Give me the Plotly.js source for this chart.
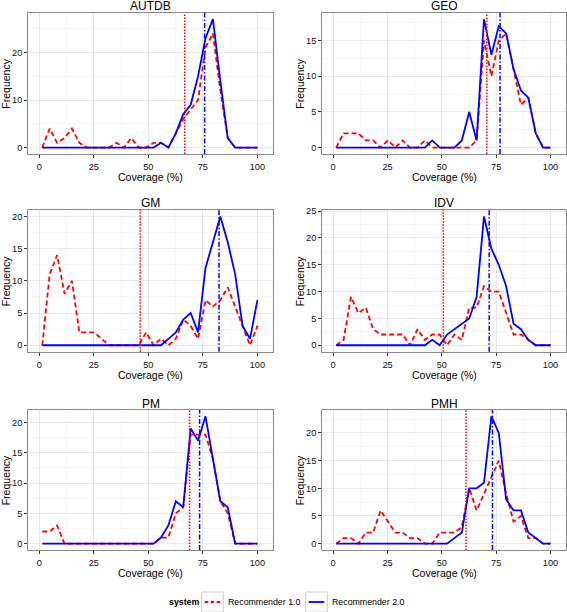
<!DOCTYPE html>
<html>
<head>
<meta charset="utf-8">
<script src="https://cdn.plot.ly/plotly-3.0.1.min.js"></script>
<style>html,body{margin:0;padding:0;background:#fff;}#chart{width:567px;height:612px;}</style>
</head>
<body>
<div id="chart"></div>
<script>
// ---- data ----
const coverage = [1.4, 4.8, 8.2, 11.6, 15.0, 18.4, 21.8, 25.2, 28.6, 32.0, 35.4, 38.8, 42.2, 45.6, 49.0,
                  52.4, 55.8, 59.2, 62.6, 66.0, 69.4, 72.8, 76.2, 79.6, 83.0, 86.4, 89.8, 93.2, 96.6, 100];
const panels = ["AUTDB", "GEO", "GM", "IDV", "PM", "PMH"];
const seriesNames = ["Recommender 1.0", "Recommender 2.0"];
const legendTitle = "system";

const autdbR1 = [0,4,1,2,4,1,0,0,0,0,1,0,2,0,0,1,1,0,3,6,8,10,21,24,12,2,0,0,0,0];
const autdbR2 = [0,0,0,0,0,0,0,0,0,0,0,0,0,0,0,0,1,0,3,7,9,15,23,27,14,2,0,0,0,0];
const geoR1   = [0,2,2,2,1,1,0,1,0,1,0,0,1,0,0,0,0,0,0,1,15,10,15,16,11,6,7,2,0,0];
const geoR2   = [0,0,0,0,0,0,0,0,0,0,0,0,0,1,0,0,0,1,5,1,18,13,17,16,11,8,7,2,0,0];
const gmR1    = [0,11,14,8,10,2,2,2,1,0,0,0,0,0,2,0,1,0,1,4,3,1,7,6,7,9,6,3,0,3];
const gmR2    = [0,0,0,0,0,0,0,0,0,0,0,0,0,0,0,0,0,1,2,4,5,2,12,16,20,16,11,3,1,7];
const idvR1   = [0,1,9,6,7,3,2,2,2,2,0,3,1,2,2,0,2,1,7,7,11,10,10,6,2,2,1,0,0,0];
const idvR2   = [0,0,0,0,0,0,0,0,0,0,0,0,0,1,0,2,3,4,5,9,24,18,15,11,4,3,1,0,0,0];
const pmR1    = [2,2,3,0,0,0,0,0,0,0,0,0,0,0,0,0,1,1,5,6,18,18,18,14,7,5,0,0,0,0];
const pmR2    = [0,0,0,0,0,0,0,0,0,0,0,0,0,0,0,0,1,3,7,6,19,17,21,14,7,6,0,0,0,0];
const pmhR1   = [0,1,1,0,2,2,6,4,2,2,1,1,0,0,2,2,2,3,10,6,9,12,15,9,4,5,1,1,0,0];
const pmhR2   = [0,0,0,0,0,0,0,0,0,0,0,0,0,0,0,0,1,2,10,10,11,23,20,8,6,6,2,1,0,0];

const meanR1 = [66.7, 70.7, 46.3, 50.7, 68.9, 61.1];
const meanR2 = [75.8, 76.8, 82.4, 71.8, 73.5, 73.3];

const xTicks = [0, 25, 50, 75, 100];

// ---- build ----
const r1Data = [autdbR1, geoR1, gmR1, idvR1, pmR1, pmhR1];
const r2Data = [autdbR2, geoR2, gmR2, idvR2, pmR2, pmhR2];

const FONT = '"Liberation Sans", Arial, Helvetica, sans-serif';
const RED = '#ff0000', BLUE = '#0000ff';
const W = 567, H = 612;
const R1DASH = '5px,3px';
const MEAN1DASH = '1.5px,1.5px';
const MEAN2DASH = '5px,2px,1.5px,2px';

// panel pixel boxes
const colX = [[28.3, 272.7], [322.3, 565.7]];
const rowY = [[12.7, 154], [210, 351.7], [410, 550]];

const traces = [];
const shapes = [];
const annotations = [];
const layout = {
  width: W, height: H,
  margin: {l: 0, r: 0, t: 0, b: 0},
  paper_bgcolor: '#ffffff', plot_bgcolor: '#ffffff',
  font: {family: FONT, color: '#000'},
  showlegend: false
};

const px = v => v / W;
const py = v => 1 - v / H;

panels.forEach((name, i) => {
  const col = i % 2, row = Math.floor(i / 2);
  const n = i === 0 ? '' : String(i + 1);
  const xa = 'x' + n, ya = 'y' + n;
  const [l, r] = colX[col];
  const [t, b] = rowY[row];
  const ymax = Math.max(...r1Data[i], ...r2Data[i]);
  const pad = ymax * 0.05;
  const dt = ymax > 25 ? 10 : 5;

  layout['xaxis' + n] = {
    domain: [px(l), px(r)], anchor: ya,
    range: [-5, 107], tickvals: xTicks, ticktext: xTicks.map(String),
    ticks: 'outside', ticklen: 3, tickwidth: 1, tickcolor: '#333', ticklabelstandoff: 1,
    tickfont: {size: 9.2, family: FONT, color: '#111'},
    showgrid: true, gridcolor: '#e3e3e3', gridwidth: 0.8,
    minor: {dtick: 12.5, tick0: 0, showgrid: true, gridcolor: '#f2f2f2', gridwidth: 0.6, ticks: ''},
    showline: true, mirror: true, linecolor: '#8a8a8a', linewidth: 1.2,
    zeroline: false, fixedrange: true
  };
  layout['yaxis' + n] = {
    domain: [py(b), py(t)], anchor: xa,
    range: [-pad, ymax + pad], dtick: dt, tick0: 0,
    ticks: 'outside', ticklen: 3, tickwidth: 1, tickcolor: '#333',
    tickfont: {size: 9.2, family: FONT, color: '#111'},
    showgrid: true, gridcolor: '#e3e3e3', gridwidth: 0.8,
    minor: {dtick: dt / 2, tick0: 0, showgrid: true, gridcolor: '#f2f2f2', gridwidth: 0.6, ticks: ''},
    showline: true, mirror: true, linecolor: '#8a8a8a', linewidth: 1.2,
    zeroline: false, fixedrange: true
  };

  traces.push({
    type: 'scatter', mode: 'lines', x: coverage, y: r1Data[i],
    xaxis: xa, yaxis: ya, name: seriesNames[0],
    line: {color: RED, width: 1.8, dash: R1DASH}, hoverinfo: 'skip'
  });
  traces.push({
    type: 'scatter', mode: 'lines', x: coverage, y: r2Data[i],
    xaxis: xa, yaxis: ya, name: seriesNames[1],
    line: {color: BLUE, width: 1.8}, hoverinfo: 'skip'
  });

  shapes.push({type: 'line', xref: xa, yref: ya + ' domain', x0: meanR1[i], x1: meanR1[i], y0: 0, y1: 1,
               line: {color: RED, width: 1.5, dash: MEAN1DASH}});
  shapes.push({type: 'line', xref: xa, yref: ya + ' domain', x0: meanR2[i], x1: meanR2[i], y0: 0, y1: 1,
               line: {color: BLUE, width: 1.5, dash: MEAN2DASH}});

  // panel title
  annotations.push({xref: 'paper', yref: 'paper', x: px((l + r) / 2), y: py(t - 6.5),
    xanchor: 'center', yanchor: 'middle', showarrow: false, text: name, borderpad: 0,
    font: {size: 12, family: FONT, color: '#000'}});
  // axis titles
  annotations.push({xref: 'paper', yref: 'paper', x: px(l - 22), y: py((t + b) / 2),
    xanchor: 'center', yanchor: 'middle', showarrow: false, text: 'Frequency', textangle: -90, borderpad: 0,
    font: {size: 10.5, family: FONT, color: '#000'}});
  annotations.push({xref: 'paper', yref: 'paper', x: px((l + r) / 2), y: py(b + 23),
    xanchor: 'center', yanchor: 'middle', showarrow: false, text: 'Coverage (%)', borderpad: 0,
    font: {size: 10.5, family: FONT, color: '#000'}});
});

// ---- legend (drawn manually to match ggplot key boxes) ----
const legY = 602;
annotations.push({xref: 'paper', yref: 'paper', x: px(168), y: py(legY), xanchor: 'left', yanchor: 'middle',
  showarrow: false, text: '<b>' + legendTitle + '</b>', borderpad: 0, font: {size: 8.8, family: FONT, color: '#000'}});
const keyBoxes = [[201.7, 223.3], [305.7, 327.3]];
const keyStyles = [{color: RED, width: 1.8, dash: '3.5px,2.5px'}, {color: BLUE, width: 1.8}];
keyBoxes.forEach(([a, bx], k) => {
  shapes.push({type: 'rect', xref: 'paper', yref: 'paper', x0: px(a), x1: px(bx), y0: py(legY + 10), y1: py(legY - 10),
               line: {color: '#cccccc', width: 1}, fillcolor: '#ffffff', layer: 'below'});
  shapes.push({type: 'line', xref: 'paper', yref: 'paper', x0: px(a + 3), x1: px(bx - 3), y0: py(legY), y1: py(legY),
               line: keyStyles[k]});
  annotations.push({xref: 'paper', yref: 'paper', x: px(bx + 3.5), y: py(legY), xanchor: 'left', yanchor: 'middle',
    showarrow: false, text: seriesNames[k], borderpad: 0, font: {size: 8.8, family: FONT, color: '#000'}});
});

layout.shapes = shapes;
layout.annotations = annotations;

Plotly.newPlot('chart', traces, layout, {staticPlot: true, displayModeBar: false});
</script>
</body>
</html>
